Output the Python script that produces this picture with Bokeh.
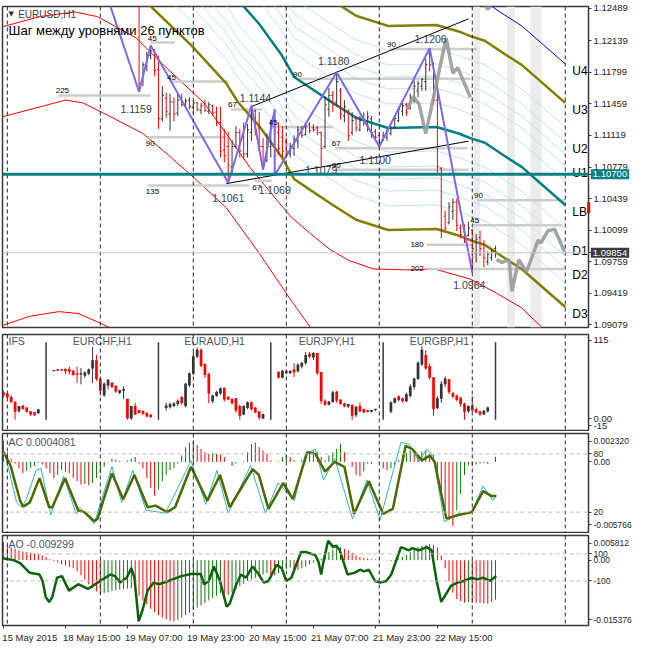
import numpy as np
from bokeh.plotting import figure
from bokeh.layouts import column
from bokeh.models import Range1d, LinearAxis, FixedTicker, Span, BoxAnnotation
from bokeh.core.properties import value
from bokeh.embed import file_html
from bokeh.resources import INLINE

FONT = "Liberation Sans"

# ---------------- time axis (bar index, H1) ----------------
day_sep = [1, 25, 49, 73, 97, 121, 145]
time_tick_bar = [0, 16, 32, 48, 64, 80, 96, 112]
time_tick_label = ["15 May 2015", "18 May 15:00", "19 May 07:00", "19 May 23:00",
                   "20 May 15:00", "21 May 07:00", "21 May 23:00", "22 May 15:00"]

# ---------------- EURUSD H1 bars ----------------
bar_first = 35
bar_open = [1.1262, 1.1170, 1.1186, 1.1198, 1.1203, 1.1183, 1.1130, 1.1152, 1.1135, 1.1148,
            1.1136, 1.1152, 1.1145, 1.1150, 1.1142, 1.1147, 1.1139, 1.1146, 1.1138, 1.1144,
            1.1137, 1.1126, 1.1096, 1.1100, 1.1078, 1.1100, 1.1115, 1.1110, 1.1092, 1.1115,
            1.1138, 1.1120, 1.1100, 1.1085, 1.1100, 1.1122, 1.1115, 1.1110, 1.1105, 1.1092,
            1.1098, 1.1106, 1.1120, 1.1113, 1.1124, 1.1120, 1.1120, 1.1115, 1.1100, 1.1140,
            1.1155, 1.1148, 1.1160, 1.1133, 1.1138, 1.1115, 1.1130, 1.1118, 1.1132, 1.1122,
            1.1130, 1.1116, 1.1112, 1.1107, 1.1110, 1.1114, 1.1120, 1.1128, 1.1138, 1.1145,
            1.1141, 1.1150, 1.1160, 1.1165, 1.1170, 1.1200, 1.1188, 1.1150, 1.1076, 1.1025,
            1.1018, 1.1030, 1.1040, 1.1012, 1.1008, 1.1004, 1.1010, 1.0985, 1.1002, 1.0995,
            1.0976, 1.0980, 1.0990]
bar_high = [1.1270, 1.1191, 1.1202, 1.1209, 1.1205, 1.1198, 1.1165, 1.1158, 1.1157, 1.1153,
            1.1157, 1.1157, 1.1152, 1.1153, 1.1150, 1.1148, 1.1147, 1.1150, 1.1148, 1.1145,
            1.1143, 1.1143, 1.1119, 1.1116, 1.1107, 1.1122, 1.1119, 1.1126, 1.1124, 1.1144,
            1.1140, 1.1137, 1.1109, 1.1114, 1.1129, 1.1140, 1.1126, 1.1122, 1.1109, 1.1104,
            1.1112, 1.1122, 1.1122, 1.1126, 1.1126, 1.1124, 1.1122, 1.1116, 1.1153, 1.1163,
            1.1160, 1.1180, 1.1163, 1.1150, 1.1140, 1.1137, 1.1133, 1.1133, 1.1137, 1.1138,
            1.1133, 1.1119, 1.1116, 1.1116, 1.1119, 1.1122, 1.1133, 1.1143, 1.1147, 1.1147,
            1.1157, 1.1171, 1.1171, 1.1174, 1.1195, 1.1206, 1.1191, 1.1168, 1.1078, 1.1031,
            1.1040, 1.1044, 1.1044, 1.1016, 1.1016, 1.1019, 1.1011, 1.1006, 1.1009, 1.0999,
            1.0987, 1.0990, 1.0993]
bar_low = [1.1159, 1.1165, 1.1181, 1.1194, 1.1176, 1.1119, 1.1127, 1.1131, 1.1117, 1.1127,
           1.1133, 1.1143, 1.1143, 1.1140, 1.1135, 1.1138, 1.1135, 1.1137, 1.1135, 1.1133,
           1.1122, 1.1088, 1.1083, 1.1061, 1.1071, 1.1098, 1.1088, 1.1086, 1.1088, 1.1106,
           1.1112, 1.1095, 1.1075, 1.1083, 1.1088, 1.1069, 1.1091, 1.1088, 1.1091, 1.1088,
           1.1090, 1.1098, 1.1109, 1.1112, 1.1114, 1.1116, 1.1112, 1.1079, 1.1098, 1.1132,
           1.1137, 1.1143, 1.1129, 1.1126, 1.1106, 1.1112, 1.1116, 1.1116, 1.1122, 1.1116,
           1.1109, 1.1106, 1.1100, 1.1106, 1.1106, 1.1112, 1.1119, 1.1126, 1.1133, 1.1133,
           1.1140, 1.1147, 1.1153, 1.1160, 1.1160, 1.1181, 1.1145, 1.1071, 1.1001, 1.1009,
           1.1016, 1.1021, 1.1009, 1.1001, 1.0996, 1.1003, 1.0964, 1.0975, 1.0982, 1.0970,
           1.0972, 1.0977, 1.0980]
bar_close = [1.1168, 1.1188, 1.1199, 1.1203, 1.1182, 1.1130, 1.1155, 1.1138, 1.1148, 1.1135,
             1.1150, 1.1145, 1.1149, 1.1143, 1.1147, 1.1140, 1.1144, 1.1139, 1.1145, 1.1136,
             1.1126, 1.1095, 1.1090, 1.1080, 1.1100, 1.1115, 1.1095, 1.1092, 1.1118, 1.1138,
             1.1118, 1.1100, 1.1082, 1.1105, 1.1120, 1.1090, 1.1098, 1.1095, 1.1095, 1.1100,
             1.1108, 1.1118, 1.1112, 1.1122, 1.1117, 1.1118, 1.1115, 1.1098, 1.1145, 1.1155,
             1.1145, 1.1170, 1.1135, 1.1143, 1.1112, 1.1128, 1.1120, 1.1128, 1.1125, 1.1132,
             1.1115, 1.1110, 1.1104, 1.1112, 1.1116, 1.1120, 1.1130, 1.1140, 1.1144, 1.1137,
             1.1152, 1.1165, 1.1168, 1.1172, 1.1188, 1.1188, 1.1150, 1.1078, 1.1010, 1.1012,
             1.1035, 1.1040, 1.1015, 1.1005, 1.0999, 1.1012, 1.0990, 1.1000, 1.0990, 1.0980,
             1.0984, 1.0986, 1.09854]

price_ticks = [1.12489, 1.12139, 1.11799, 1.11459, 1.11119, 1.10779, 1.10439,
               1.10099, 1.09759, 1.09419, 1.09079]
hline_price = 1.10700
marker_lo, marker_hi = 1.1028, 1.1040

# zigzag
zz_i = [24, 35, 38, 58, 64, 67, 70, 70, 86, 97, 110, 121]
zz_p = [1.1296, 1.1159, 1.1209, 1.1061, 1.1144, 1.1075, 1.1140, 1.1069, 1.1180, 1.1100, 1.1206, 1.0964]
zz_labelled = [1, 3, 4, 7, 8, 9, 10, 11]

# channel mid line and level ratios
mid_i = [37.5, 48.5, 57.5, 60.5, 66, 71.75, 75, 79.25, 85, 91, 99.25, 111.75, 117.5,
         120.5, 124.25, 129.25, 133.75, 145]
mid_p = [1.1363, 1.1319, 1.1278, 1.1258, 1.1232, 1.1199, 1.1175, 1.1163, 1.1147, 1.1131,
         1.1120, 1.1121, 1.1114, 1.1109, 1.1104, 1.1090, 1.1078, 1.1037]
chan_width = 0.0110
thin_ratios = [0.236, 0.382, 0.5, 0.618, 0.764]
level_names = ["U4", "U3", "U2", "U1", "LB", "D1", "D2", "D3"]
level_ratios = [1.382, 1.0, 0.618, 0.382, 0.0, -0.382, -0.618, -1.0]

# red envelope lines
redA_i = [-0.3, 9.25, 18.5, 24.25, 34.25, 40.5, 51.75, 57.5, 63.5, 71, 74.25, 79.25, 84.25,
          89.25, 95.5, 104.25, 111.25, 120.5, 127.25, 133.75, 138.75, 143]
redA_p = [1.1229, 1.1240, 1.1245, 1.1240, 1.1217, 1.1191, 1.1147, 1.1114, 1.1078, 1.1040,
          1.1024, 1.1006, 1.0989, 1.0977, 1.0968, 1.0967, 1.0968, 1.0957, 1.0942, 1.0926,
          1.0906, 1.0887]
redB_i = [-0.3, 16, 20.5, 26.75, 36, 42.5, 49.25, 57.5, 66, 74.25, 79.25, 83]
redB_p = [1.1132, 1.1150, 1.1147, 1.1134, 1.1114, 1.1091, 1.1066, 1.1034, 1.0985, 1.0934,
          1.0905, 1.0882]
redC_i = [-0.3, 6.75, 14.25, 19.25, 24.25, 29.25]
redC_p = [1.0907, 1.0917, 1.0922, 1.0920, 1.0911, 1.0901]

# trend lines
tl_up_i = [64, 120]
tl_up_p = [1.1143, 1.12375]
tl_dn_i = [57.5, 120]
tl_dn_p = [1.1060, 1.11057]

# forecast paths
fc1_i = [104.25, 105.75, 107.25, 109, 111, 114.25, 116, 117.25, 120.5]
fc1_p = [1.1140, 1.1154, 1.1146, 1.1114, 1.1153, 1.1217, 1.1179, 1.1185, 1.1153]
fc2_i = [127.25, 128.75, 130.5, 131.25, 133, 135, 138, 138.75, 140.5, 142.25, 144.75]
fc2_p = [1.0978, 1.0975, 1.0978, 1.0944, 1.0978, 1.0965, 1.0999, 1.0996, 1.1009, 1.1011, 1.0987]
fc3_i = [122.5, 125, 126.5]
fc3_p = [1.1264, 1.1248, 1.1256]

# horizontal level segments
lvl_txt = ["225", "45", "45", "90", "135", "67", "45", "67", "90", "90", "67", "90", "90", "45", "180", "202"]
lvl_p = [1.1155, 1.1212, 1.1170, 1.1110, 1.1058, 1.1140, 1.1121, 1.1063, 1.1173, 1.1205,
         1.1098, 1.1075, 1.1042, 1.1015, 1.0994, 1.0968]
lvl_i0 = [14.25, 38, 43, 37.25, 37.25, 58.75, 69.25, 64.75, 75.5, 99.75, 85.5, 85.5, 122.25,
          121.25, 109.25, 109.25]
lvl_i1 = [38, 44.25, 58, 57.5, 63.5, 66.75, 85, 69.25, 120.5, 122.25, 119.75, 120, 145, 144.25,
          121.25, 145]
lvl_side = ["a", "a", "a", "b", "b", "a", "a", "b", "a", "a", "a", "a", "a", "a", "l", "l"]

band_l = [121.3, 130.0, 136.0]
band_r = [123.0, 132.0, 138.9]

# ---------------- IFS panel (index scale) ----------------
ifs_names = ["IFS", "EURCHF,H1", "EURAUD,H1", "EURJPY,H1", "EURGBP,H1"]
ifs_start = [0, 13, 42, 71, 100]
ifs_sep = [11, 40, 69, 98, 127]
ifs_usd = [(35, 38, 28, 31), (33, 34, 27, 28), (28, 31, 19, 21), (21, 21, -6, 6), (7, 15, 5, 14),
           (15, 16, 10, 10), (12, 13, 5, 6), (6, 7, 0, 2), (5, 6, 0, 1), (4, 10, 3, 9)]
ifs_chf = [(69, 70, 68, 68), (69, 71, 68, 70), (70, 71, 68, 69), (71, 72, 64, 68), (70, 75, 63, 67),
           (68, 70, 61, 62), (64, 75, 50, 63), (63, 73, 48, 64), (61, 68, 58, 65), (64, 72, 62, 70),
           (72, 105, 50, 84), (84, 93, 53, 56), (56, 57, 31, 38), (31, 51, 29, 48), (46, 56, 40, 54),
           (50, 51, 42, 44), (45, 46, 35, 37), (35, 40, 33, 38), (38, 45, 26, 40), (25, 26, -6, -4),
           (-4, 15, -6, 14), (14, 20, 1, 2), (8, 9, 4, 4), (7, 8, 1, 3), (4, 5, -2, -1), (1, 2, -3, -2)]
ifs_aud = [(12, 20, 8, 15), (13, 20, 11, 17), (15, 21, 13, 18), (18, 25, 15, 22), (28, 30, 17, 19),
           (15, 50, 13, 48), (46, 66, 44, 64), (64, 97, 62, 90), (90, 104, 88, 100), (100, 103, 74, 76),
           (78, 80, 58, 62), (63, 66, 19, 34), (22, 32, 19, 30), (30, 38, 29, 36), (34, 43, 32, 41),
           (42, 43, 22, 25), (28, 30, 24, 25), (25, 26, 17, 19), (26, 27, 5, 8), (14, 17, -6, 0),
           (2, 16, 1, 14), (12, 22, 10, 20), (20, 22, 8, 10), (12, 13, 4, 5), (6, 7, -6, -3), (-4, 3, -5, 2)]
ifs_jpy = [(66, 68, 57, 58), (58, 70, 57, 68), (68, 70, 64, 65), (65, 69, 64, 68), (70, 80, 59, 66),
           (68, 80, 66, 77), (75, 82, 72, 80), (80, 97, 78, 92), (94, 97, 88, 90), (89, 97, 85, 95),
           (95, 96, 62, 65), (66, 67, 18, 22), (22, 25, 15, 17), (17, 22, 16, 21), (21, 38, 20, 35),
           (36, 38, 20, 23), (24, 25, 17, 18), (18, 20, 13, 14), (14, 18, 12, 17), (16, 17, -6, 0),
           (1, 15, -2, 13), (14, 20, 5, 7), (9, 11, 4, 5), (8, 9, 5, 6), (6, 9, 5, 8), (9, 10, 7, 10)]
ifs_gbp = [(6, 22, 4, 20), (20, 28, 19, 26), (29, 31, 22, 24), (26, 28, 20, 22), (22, 35, 21, 32),
           (30, 48, 28, 44), (44, 58, 40, 56), (56, 83, 55, 80), (78, 106, 76, 100), (92, 100, 70, 72),
           (75, 80, 55, 58), (58, 59, 0, 10), (12, 30, 10, 26), (26, 53, 20, 48), (48, 60, 44, 56),
           (55, 56, 33, 36), (34, 36, 27, 29), (30, 32, 22, 24), (27, 28, 14, 18), (18, 20, -6, 6),
           (7, 16, 4, 14), (15, 30, 6, 8), (9, 13, 4, 5), (6, 7, 0, 2), (2, 9, 1, 7), (7, 14, 5, 12)]
ifs_range = (-22.4, 123.9)
ifs_axis_ticks = [115, -4.6, -15]
ifs_axis_labels = ["115", "0.00", "-15"]

# ---------------- AC + stochastic ----------------
ac = [0.00172, 0.00079, 0.00026, -0.00013, -0.00053, -0.00092, -0.00074, -0.00048, -0.00032, -0.00008,
      -0.00021, -0.00053, -0.00092, -0.00132, -0.00106, -0.00066, -0.00079, -0.00092, -0.00132, -0.00158,
      -0.00185, -0.00180, -0.00190, -0.00172, -0.00132, -0.00092, -0.00040, -0.00005, 0.00026, 0.00018,
      0.00008, 0.00000, 0.00011, 0.00026, 0.00040, -0.00013, -0.00053, -0.00132, -0.00211, -0.00277,
      -0.00224, -0.00158, -0.00106, -0.00066, -0.00048, -0.00013, 0.00053, 0.00119, 0.00158, 0.00172,
      0.00137, 0.00106, 0.00079, 0.00066, 0.00074, 0.00066, 0.00058, 0.00040, 0.00000, -0.00032,
      -0.00013, 0.00000, 0.00005, 0.00079, 0.00145, 0.00158, 0.00119, 0.00092, 0.00066, 0.00013,
      0.00000, 0.00005, 0.00040, 0.00058, 0.00040, 0.00013, 0.00000, 0.00013, 0.00053, 0.00079,
      0.00092, 0.00079, 0.00040, 0.00013, 0.00053, 0.00079, 0.00106, 0.00145, 0.00079, 0.00000,
      -0.00040, -0.00106, -0.00119, -0.00079, -0.00013, -0.00018, 0.00000, -0.00008, -0.00053, -0.00066,
      -0.00053, -0.00026, 0.00013, 0.00053, 0.00074, 0.00092, 0.00066, 0.00058, 0.00084, 0.00092,
      0.00066, 0.00058, -0.00132, -0.00264, -0.00396, -0.00475, -0.00523, -0.00396, -0.00264, -0.00106,
      -0.00026, -0.00032, -0.00021, -0.00013, -0.00008, -0.00016, 0.00000, 0.0004081]
ac_range = (-0.005766, 0.002320)
stoch_k_i = [0.1, 1.8, 4.3, 5.1, 6.8, 9.3, 11.8, 12.6, 15.9, 19.3, 20.9, 23.4, 24.3, 28.0, 30.9,
             33.8, 37.2, 39.3, 42.2, 44.3, 48.4, 52.6, 55.9, 58.4, 64.3, 65.9, 68.4, 72.2, 74.7,
             78.4, 80.5, 83.0, 85.5, 88.0, 90.5, 94.3, 98.0, 100.5, 103.8, 105.5, 108.0, 110.1,
             111.3, 114.3, 117.2, 120.9, 123.8, 125.9, 127.2]
stoch_k = [81.7, 68.3, 31.7, 25.7, 30, 55, 25, 25, 55, 21.7, 20, 10.7, 13.3, 60, 33.3, 58.3, 25,
           26.7, 20, 25, 66.7, 31.7, 58.3, 25, 64.3, 58.3, 23.3, 50, 33.3, 81.7, 80, 61.7, 71.7,
           66.7, 18.3, 51.7, 18.3, 23.3, 88.3, 85, 73.3, 78.3, 71.7, 13.3, 16.7, 20, 41.7, 36.7, 36.7]
stoch_s_i = [0.1, 1.3, 3.4, 4.7, 5.9, 8.4, 9.7, 12.2, 15.5, 18.8, 19.7, 23.4, 28.0, 30.5, 33.4,
             36.8, 41.8, 48.4, 52.2, 55.1, 58.0, 63.8, 67.6, 70.9, 75.1, 78.0, 80.5, 82.6, 85.5,
             90.1, 93.8, 97.2, 102.6, 104.7, 107.2, 109.3, 110.9, 113.8, 117.2, 120.9, 123.8,
             126.3, 127.2]
stoch_s = [83, 65, 30, 25, 33, 63, 65, 17, 57, 18, 25, 8, 67, 30, 63, 22, 19, 73, 28, 63, 19, 68,
           19, 50, 32, 80, 85, 53, 75, 13, 53, 12, 92, 90, 72, 85, 78, 10, 18, 20, 47, 32, 37]
stoch_levels = [80, 20]

# ---------------- AO + CCI ----------------
ao = [0.00418, 0.00357, 0.00304, 0.00266, 0.00228, 0.00205, 0.00190, 0.00175, 0.00160, 0.00144,
      0.00114, 0.00076, 0.00023, -0.00023, -0.00053, -0.00091, -0.00129, -0.00160, -0.00190, -0.00266,
      -0.00357, -0.00456, -0.00570, -0.00661, -0.00737, -0.00798, -0.00768, -0.00752, -0.00722, -0.00707,
      -0.00692, -0.00684, -0.00669, -0.00661, -0.00722, -0.00836, -0.00950, -0.01041, -0.01140, -0.01216,
      -0.01292, -0.01345, -0.01391, -0.01421, -0.01444, -0.01406, -0.01345, -0.01292, -0.01239, -0.01178,
      -0.01117, -0.01064, -0.01011, -0.00950, -0.00889, -0.00836, -0.00783, -0.00798, -0.00813, -0.00760,
      -0.00684, -0.00608, -0.00555, -0.00494, -0.00456, -0.00418, -0.00380, -0.00342, -0.00304, -0.00327,
      -0.00357, -0.00304, -0.00251, -0.00205, -0.00175, -0.00205, -0.00228, -0.00190, -0.00152, -0.00099,
      -0.00053, -0.00023, 0.00038, 0.00114, 0.00190, 0.00251, 0.00281, 0.00304, 0.00266, 0.00228,
      0.00175, 0.00114, 0.00076, 0.00053, 0.00038, 0.00023, 0.00015, 0.00008, -0.00003, -0.00008,
      -0.00023, -0.00015, 0.00023, 0.00076, 0.00129, 0.00190, 0.00251, 0.00304, 0.00342, 0.00357,
      0.00380, 0.00357, 0.00304, 0.00114, -0.00190, -0.00494, -0.00760, -0.00912, -0.00965, -0.00996,
      -0.00988, -0.00996, -0.01003, -0.01011, -0.01018, -0.01026, -0.00988, -0.009299]
ao_range = (-0.015376, 0.005812)
cci_i = [0.1, 2.6, 4.3, 6.8, 9.3, 10.1, 10.9, 11.8, 12.6, 13.8, 15.1, 15.9, 16.9, 19.3, 21.8, 24.3,
         27.6, 28.8, 30.1, 31.8, 33.0, 33.8, 34.9, 35.9, 37.2, 38.8, 40.1, 42.6, 45.9, 48.4, 50.9,
         51.8, 53.0, 54.3, 55.9, 57.6, 58.4, 60.1, 61.3, 62.6, 64.3, 65.9, 67.2, 68.4, 70.5, 71.8,
         73.0, 74.3, 76.8, 78.0, 79.3, 80.5, 81.3, 82.0, 82.6, 83.8, 85.1, 85.9, 86.8, 88.8, 90.5,
         92.2, 93.0, 94.3, 95.9, 97.2, 98.8, 100.1, 102.6, 104.7, 105.5, 107.2, 109.3, 110.5, 111.8,
         113.0, 115.5, 117.2, 118.8, 120.9, 122.2, 123.8, 125.5, 127.2]
cci = [66, 54, 31, -40, -52, -100, -219, -255, -219, -76, -64, -112, -171, -124, -159, -112, -52,
       -64, -112, -76, -5, -76, -398, -314, -171, -112, -124, -100, -64, -48, -48, -124, -100, 7,
       -100, -290, -267, -124, -52, -76, 7, -52, -112, -100, 19, -5, -100, -76, 114, 114, 102, 90,
       43, -52, 43, 197, 150, 162, 126, -52, -40, -17, -29, -17, -100, -112, -100, -52, 150, 126,
       143, 126, 150, 126, -100, -255, -136, -112, -100, -76, -88, -76, -100, -64]
cci_range = (-428.6, 235.7)
cci_levels = [100, -100]

# ---------------- styles ----------------
FW = 586
XR = Range1d(-0.25, 151)
C_UP = "#333333"
C_DN = "#ff0000"
C_TXT = "#33414f"


def make_fig(frame_h, yr, top=2, bottom=1, label_size="9.5px"):
    p = figure(frame_width=FW, frame_height=frame_h, x_range=XR, y_range=yr,
               toolbar_location=None, output_backend="svg",
               x_axis_location=None, y_axis_location="right",
               min_border_left=2, min_border_right=38, min_border_top=top, min_border_bottom=bottom,
               background_fill_color="white", border_fill_color="white")
    p.xgrid.visible = False
    p.ygrid.visible = False
    p.outline_line_color = "#3a3a3a"
    p.outline_line_width = 1.5
    ax = p.yaxis[0]
    ax.major_tick_out = 3
    ax.major_tick_in = 0
    ax.minor_tick_out = 0
    ax.minor_tick_in = 0
    ax.axis_line_color = "#3a3a3a"
    ax.major_tick_line_color = "#3a3a3a"
    ax.major_label_text_font = FONT
    ax.major_label_text_font_size = label_size
    ax.major_label_text_color = "#1e1e1e"
    ax.major_label_standoff = 2
    for d in day_sep:
        p.add_layout(Span(location=d, dimension="height", line_color="#2b2b2b",
                          line_dash="4 3", line_width=1))
    return p


def set_ticks(p, ticks, labels):
    p.yaxis[0].ticker = FixedTicker(ticks=list(ticks))
    p.yaxis[0].major_label_overrides = {t: l for t, l in zip(ticks, labels)}


# ================= main panel =================
pm = make_fig(321, Range1d(1.09049, 1.12509), top=6, bottom=5)
axis_prices = price_ticks + [hline_price, bar_close[-1]]
set_ticks(pm, axis_prices, [f"{t:.5f}" for t in axis_prices])

for l, r in zip(band_l, band_r):
    pm.add_layout(BoxAnnotation(left=l, right=r, fill_color="#ececec", fill_alpha=1.0,
                                line_color=None, level="underlay"))

mid = np.array(mid_p)
for r in thin_ratios:
    for s in (1, -1):
        pm.line(mid_i, mid + s * r * chan_width, line_color="#bfe5ec", line_width=1)

pm.line(redA_i, redA_p, line_color="#ff0000", line_width=1)
pm.line(redB_i, redB_p, line_color="#ff0000", line_width=1)
pm.line(redC_i, redC_p, line_color="#ff0000", line_width=1)

pm.add_layout(Span(location=bar_close[-1], dimension="width", line_color="#c4c4c4", line_width=1))

pm.segment(x0=lvl_i0, y0=lvl_p, x1=lvl_i1, y1=lvl_p, line_color="#cdcdcd", line_width=2.5)

pm.line(mid_i, mid + 1.382 * chan_width, line_color="#0000ff", line_width=1)
pm.line(mid_i, mid + chan_width, line_color="#808000", line_width=2.5)
pm.line(mid_i, mid - chan_width, line_color="#808000", line_width=2.5)
pm.line(mid_i, mid, line_color="#008080", line_width=2.5)
pm.add_layout(Span(location=hline_price, dimension="width", line_color="#0b8080", line_width=3))

pm.line(tl_up_i, tl_up_p, line_color="black", line_width=1)
pm.line(tl_dn_i, tl_dn_p, line_color="black", line_width=1)

bi = np.arange(bar_first, bar_first + len(bar_open))
bcol = [C_DN if c < o else C_UP for o, c in zip(bar_open, bar_close)]
pm.segment(x0=bi, y0=bar_low, x1=bi, y1=bar_high, line_color=bcol, line_width=1)
pm.segment(x0=bi - 0.4, y0=bar_open, x1=bi, y1=bar_open, line_color=bcol, line_width=1)
pm.segment(x0=bi, y0=bar_close, x1=bi + 0.4, y1=bar_close, line_color=bcol, line_width=1)

pm.line(zz_i, zz_p, line_color="#7b68ee", line_width=2)

for fx, fy in ((fc1_i, fc1_p), (fc2_i, fc2_p), (fc3_i, fc3_p)):
    pm.line(fx, fy, line_color="#9a9a9a", line_width=3.5, line_alpha=0.9)

# zigzag price labels
zz_dx = [-3, 0, 4, 0, -3, -4, 1, -3]
zz_dy = [17, 15, -8, 15, -11, 14, -9, 12]
pm.text(x=[zz_i[k] for k in zz_labelled], y=[zz_p[k] for k in zz_labelled],
        text=[f"{zz_p[k]:.4f}" for k in zz_labelled], x_offset=zz_dx, y_offset=zz_dy,
        text_align="center", text_baseline="middle", text_font=value(FONT),
        text_font_size="10.5px", text_color=C_TXT)
low_lab_bar = 82
pm.text(x=[low_lab_bar], y=[bar_low[low_lab_bar - bar_first]],
        text=[f"{bar_low[low_lab_bar - bar_first]:.4f}"], y_offset=[4],
        text_align="center", text_baseline="middle", text_font=value(FONT),
        text_font_size="10.5px", text_color=C_TXT)

# level labels
for side, align, base, dx, dy in (("a", "left", "bottom", -3, -2), ("b", "left", "top", -2, 4),
                                  ("l", "right", "middle", -3, 0)):
    idx = [k for k, s in enumerate(lvl_side) if s == side]
    pm.text(x=[lvl_i0[k] for k in idx], y=[lvl_p[k] for k in idx], text=[lvl_txt[k] for k in idx],
            x_offset=dx, y_offset=dy, text_align=align, text_baseline=base,
            text_font=value(FONT), text_font_size="8px", text_color="black")

# U / D level names
end_mid = mid_p[-1]
pm.text(x=[146.8] * len(level_names), y=[end_mid + r * chan_width for r in level_ratios],
        text=level_names, y_offset=7, text_align="left", text_baseline="middle",
        text_font=value(FONT), text_font_size="12px", text_color="black")

# titles
pm.text(x=[1.3], y=[1.12432], text=["▼"], text_align="left", text_baseline="middle",
        text_font=value("DejaVu Sans"), text_font_size="7px", text_color="#333333")
pm.text(x=[3.8], y=[1.12420], text=["EURUSD,H1"], text_align="left", text_baseline="middle",
        text_font=value(FONT), text_font_size="10px", text_color=C_TXT)
pm.text(x=[1.3], y=[1.12247], text=["Шаг между уровнями 26 пунктов"], text_align="left",
        text_baseline="middle", text_font=value(FONT), text_font_size="13px", text_color="black")

# price boxes drawn over the price scale (overlay level is not clipped to the frame)
pm.segment(x0=[151.05], y0=[marker_lo], x1=[151.05], y1=[marker_hi], line_color="#ff0000",
           line_width=3, level="overlay")
pm.text(x=[151.6, 151.6], y=[hline_price, bar_close[-1]],
        text=[f"{hline_price:.5f}", f"{bar_close[-1]:.5f}"],
        background_fill_color=["#0b8080", "#3c3c3c"], padding=2,
        text_align="left", text_baseline="middle", text_font=value(FONT),
        text_font_size="9.5px", text_color="white", level="overlay")

# ================= IFS panel =================
pi = make_fig(96, Range1d(*ifs_range))
set_ticks(pi, ifs_axis_ticks, ifs_axis_labels)
pi.segment(x0=ifs_sep, y0=[-6] * len(ifs_sep), x1=ifs_sep, y1=[112] * len(ifs_sep),
           line_color="#3a3a3a", line_width=1.5)
for start, seg in zip(ifs_start, (ifs_usd, ifs_chf, ifs_aud, ifs_jpy, ifs_gbp)):
    xs = np.arange(start, start + len(seg))
    o = [c[0] for c in seg]; h = [c[1] for c in seg]; lo = [c[2] for c in seg]; cl = [c[3] for c in seg]
    col = [C_DN if c < oo else C_UP for oo, c in zip(o, cl)]
    pi.segment(x0=xs, y0=lo, x1=xs, y1=h, line_color=col, line_width=1)
    pi.vbar(x=xs, bottom=[min(a, b) for a, b in zip(o, cl)], top=[max(a, b) + 0.8 for a, b in zip(o, cl)],
            width=0.7, fill_color=col, line_color=None)
centers = [(a + b) / 2 for a, b in zip(ifs_sep[:-1], ifs_sep[1:])]
pi.text(x=[1.3], y=[113.5], text=[ifs_names[0]], text_align="left", text_baseline="middle",
        text_font=value(FONT), text_font_size="10.5px", text_color="#4a5563")
pi.text(x=centers, y=[113.5] * 4, text=ifs_names[1:], text_align="center", text_baseline="middle",
        text_font=value(FONT), text_font_size="10.5px", text_color="#4a5563")

# ================= AC panel =================
pa = make_fig(99, Range1d(-1, 101), label_size="8.5px")
pa.extra_y_ranges = {"ac": Range1d(*ac_range)}
span_ac = ac_range[1] - ac_range[0]
ac_zero_pos = -1 + (0 - ac_range[0]) / span_ac * 102
set_ticks(pa, [93, 80, ac_zero_pos, 20, 7],
          [f"{ac_range[1]:.6f}", "80", "0.00", "20", f"{ac_range[0]:.6f}"])
for lv in stoch_levels:
    pa.add_layout(Span(location=lv, dimension="width", line_color="#bdbdbd", line_dash="4 3", line_width=1))
ai = np.arange(len(ac))
ac_col = [C_DN] + ["#0a7a0a" if ac[k] > ac[k - 1] else C_DN for k in range(1, len(ac))]
pa.segment(x0=ai, y0=0, x1=ai, y1=ac, y_range_name="ac", line_color=ac_col, line_width=1)
pa.line(stoch_s_i, stoch_s, line_color="#2cb8b8", line_width=1)
pa.line(stoch_k_i, stoch_k, line_color="#4b6a00", line_width=2.5)
pa.text(x=[1.3], y=[92], text=[f"AC {ac[-1]:.7f}"], text_align="left", text_baseline="middle",
        text_font=value(FONT), text_font_size="10.5px", text_color="#4a5563")

# ================= AO panel =================
po = make_fig(90, Range1d(*cci_range), top=2, bottom=1, label_size="8.5px")
po.extra_y_ranges = {"ao": Range1d(*ao_range)}
span_ao = ao_range[1] - ao_range[0]
span_cci = cci_range[1] - cci_range[0]
ao_zero_pos = cci_range[0] + (0 - ao_range[0]) / span_ao * span_cci
set_ticks(po, [178.6, 100, ao_zero_pos, -100, -385.8],
          [f"{ao_range[1]:.6f}", "100", "0.00", "-100", f"{ao_range[0]:.6f}"])
for lv in cci_levels:
    po.add_layout(Span(location=lv, dimension="width", line_color="#bdbdbd", line_dash="4 3", line_width=1))
oi = np.arange(len(ao))
ao_col = ["#0a7a0a"] + ["#0a7a0a" if ao[k] > ao[k - 1] else C_DN for k in range(1, len(ao))]
po.segment(x0=oi, y0=0, x1=oi, y1=ao, y_range_name="ao", line_color=ao_col, line_width=1)
po.line(cci_i, cci, line_color="#0b640b", line_width=2.5)
po.text(x=[1.3], y=[175], text=[f"AO {ao[-1]:.6f}"], text_align="left", text_baseline="middle",
        text_font=value(FONT), text_font_size="10.5px", text_color="#4a5563")

label_shift = 6.8  # MT4 time labels start at their bar: centre each half a label to the right
xt = [b + label_shift for b in time_tick_bar]
xa = LinearAxis(ticker=FixedTicker(ticks=xt, minor_ticks=time_tick_bar),
                major_label_overrides={t: l for t, l in zip(xt, time_tick_label)})
xa.major_tick_out = 0
xa.major_tick_in = 0
xa.major_tick_line_color = None
xa.minor_tick_out = 3
xa.minor_tick_in = 0
xa.minor_tick_line_color = "#3a3a3a"
xa.axis_line_color = None
xa.major_label_standoff = 3
xa.major_label_text_font = FONT
xa.major_label_text_font_size = "9.5px"
xa.major_label_text_color = "#1e1e1e"
po.add_layout(xa, "below")

layout = column(pm, pi, pa, po, spacing=0)
open("out.html", "w").write(file_html(layout, INLINE))
